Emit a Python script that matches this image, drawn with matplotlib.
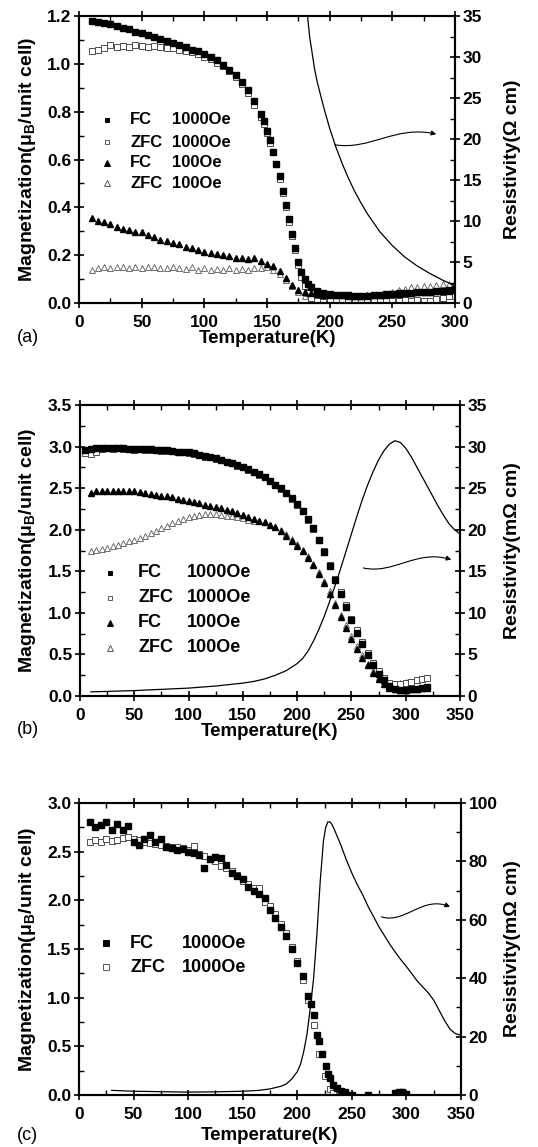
import numpy as np
import matplotlib
matplotlib.use("Agg")
import matplotlib.pyplot as plt
from matplotlib.path import Path
from matplotlib.patches import FancyArrowPatch
from matplotlib.ticker import MultipleLocator

plt.rcParams['font.family'] = ['Liberation Sans', 'DejaVu Sans']
plt.rcParams['font.weight'] = 'bold'
plt.rcParams['mathtext.fontset'] = 'custom'
plt.rcParams['mathtext.rm'] = 'Liberation Sans:bold'
plt.rcParams['mathtext.it'] = 'Liberation Sans:bold'
plt.rcParams['mathtext.bf'] = 'Liberation Sans:bold'

# ---------------- panel (a) ----------------
Ta_1000 = [10, 15, 20, 25, 30, 35, 40, 45, 50, 55, 60, 65, 70, 75, 80, 85, 90, 95, 100, 105,
           110, 115, 120, 125, 130, 135, 140, 145, 147.5, 150, 152.5, 155, 157.5, 160, 162.5,
           165, 167.5, 170, 172.5, 175, 177.5, 180, 182.5, 185, 190, 195, 200, 205, 210, 215,
           220, 225, 230, 235, 240, 245, 250, 255, 260, 265, 270, 275, 280, 285, 290, 295, 300]
Ma_fc1000 = [1.18, 1.175, 1.172, 1.168, 1.16, 1.152, 1.145, 1.135, 1.128, 1.12, 1.112, 1.105,
             1.097, 1.088, 1.08, 1.07, 1.06, 1.052, 1.042, 1.03, 1.015, 0.995, 0.975, 0.952,
             0.925, 0.89, 0.845, 0.79, 0.76, 0.72, 0.68, 0.63, 0.58, 0.53, 0.47, 0.41, 0.35,
             0.29, 0.23, 0.17, 0.13, 0.1, 0.08, 0.065, 0.05, 0.042, 0.038, 0.035, 0.035, 0.032,
             0.03, 0.028, 0.03, 0.032, 0.035, 0.037, 0.038, 0.04, 0.04, 0.042, 0.045, 0.045,
             0.048, 0.05, 0.05, 0.055, 0.06]
Ma_zfc1000 = [1.055, 1.06, 1.065, 1.08, 1.07, 1.075, 1.072, 1.08, 1.075, 1.072, 1.075, 1.07,
              1.068, 1.065, 1.06, 1.055, 1.05, 1.04, 1.03, 1.02, 1.005, 0.99, 0.97, 0.945,
              0.915, 0.88, 0.83, 0.78, 0.75, 0.71, 0.67, 0.63, 0.58, 0.52, 0.46, 0.4, 0.34,
              0.28, 0.22, 0.16, 0.11, 0.07, 0.04, 0.02, 0.01, 0.005, 0.01, 0.008, 0.01, 0.012,
              0.008, 0.01, 0.012, 0.01, 0.008, 0.012, 0.01, 0.01, 0.012, 0.01, 0.012, 0.01,
              0.01, 0.015, 0.02, 0.03, 0.03]

Ta_100 = [10, 15, 20, 25, 30, 35, 40, 45, 50, 55, 60, 65, 70, 75, 80, 85, 90, 95, 100, 105,
          110, 115, 120, 125, 130, 135, 140, 145, 150, 155, 160, 165, 170, 175, 180, 185, 190,
          195, 200, 205, 210, 215, 220, 225, 230, 235, 240, 245, 250, 255, 260, 265, 270, 275,
          280, 285, 290, 295, 300]
Ma_fc100 = [0.355, 0.345, 0.34, 0.33, 0.32, 0.31, 0.305, 0.295, 0.295, 0.285, 0.275, 0.265,
            0.26, 0.25, 0.245, 0.235, 0.23, 0.22, 0.215, 0.21, 0.205, 0.2, 0.195, 0.19, 0.19,
            0.185, 0.19, 0.175, 0.165, 0.155, 0.135, 0.105, 0.075, 0.055, 0.045, 0.04, 0.038,
            0.035, 0.033, 0.032, 0.032, 0.03, 0.03, 0.03, 0.032, 0.033, 0.035, 0.035, 0.038,
            0.037, 0.04, 0.042, 0.045, 0.045, 0.048, 0.05, 0.052, 0.05, 0.055]
Ma_zfc100 = [0.14, 0.145, 0.15, 0.145, 0.15, 0.15, 0.148, 0.15, 0.148, 0.15, 0.15, 0.148,
             0.145, 0.15, 0.145, 0.142, 0.15, 0.14, 0.145, 0.14, 0.142, 0.14, 0.145, 0.14,
             0.142, 0.14, 0.148, 0.145, 0.15, 0.14, 0.12, 0.095, 0.07, 0.045, 0.03, 0.02,
             0.015, 0.012, 0.012, 0.013, 0.015, 0.018, 0.02, 0.022, 0.025, 0.028, 0.032, 0.038,
             0.045, 0.055, 0.06, 0.065, 0.068, 0.07, 0.072, 0.075, 0.078, 0.08, 0.085]

Ta_rho = [180, 182, 184, 186, 188, 190, 195, 200, 205, 210, 215, 220, 225, 230, 240, 250,
          260, 270, 280, 290, 300]
rho_a = [38.5, 35.5, 32.5, 30.5, 28.5, 27.0, 24.0, 21.3, 19.0, 17.0, 15.2, 13.6, 12.2, 10.9,
         8.7, 7.0, 5.6, 4.5, 3.6, 2.8, 2.1]

# ---------------- panel (b) ----------------
Tb = [5, 10, 15, 20, 25, 30, 35, 40, 45, 50, 55, 60, 65, 70, 75, 80, 85, 90, 95, 100, 105,
      110, 115, 120, 125, 130, 135, 140, 145, 150, 155, 160, 165, 170, 175, 180, 185, 190,
      195, 200, 205, 210, 215, 220, 225, 230, 235, 240, 245, 250, 255, 260, 265, 270, 275,
      280, 285, 290, 295, 300, 305, 310, 315, 320]
Mb_fc1000 = [2.96, 2.97, 2.98, 2.98, 2.98, 2.98, 2.98, 2.98, 2.97, 2.97, 2.97, 2.97, 2.97,
             2.96, 2.96, 2.96, 2.95, 2.94, 2.94, 2.93, 2.92, 2.9, 2.89, 2.87, 2.86, 2.84, 2.82,
             2.8, 2.78, 2.76, 2.73, 2.7, 2.67, 2.63, 2.59, 2.54, 2.5, 2.44, 2.38, 2.31, 2.23,
             2.13, 2.02, 1.88, 1.73, 1.56, 1.39, 1.23, 1.07, 0.91, 0.76, 0.62, 0.49, 0.37,
             0.27, 0.19, 0.12, 0.08, 0.07, 0.07, 0.08, 0.09, 0.1, 0.11]
Mb_zfc1000 = [2.92, 2.91, 2.93, 2.97, 2.98, 2.97, 2.98, 2.97, 2.97, 2.96, 2.97, 2.96, 2.96,
              2.96, 2.95, 2.95, 2.95, 2.94, 2.93, 2.92, 2.91, 2.9, 2.88, 2.87, 2.85, 2.84,
              2.82, 2.8, 2.77, 2.75, 2.72, 2.7, 2.66, 2.63, 2.58, 2.54, 2.49, 2.44, 2.37, 2.3,
              2.22, 2.12, 2.01, 1.88, 1.74, 1.58, 1.41, 1.25, 1.09, 0.93, 0.79, 0.65, 0.52,
              0.4, 0.3, 0.22, 0.16, 0.15, 0.15, 0.16, 0.17, 0.19, 0.21, 0.22]
Tb_fc100 = [10, 15, 20, 25, 30, 35, 40, 45, 50, 55, 60, 65, 70, 75, 80, 85, 90, 95, 100, 105,
            110, 115, 120, 125, 130, 135, 140, 145, 150, 155, 160, 165, 170, 175, 180, 185,
            190, 195, 200, 205, 210, 215, 220, 225, 230, 235, 240, 245, 250, 255, 260, 265,
            270, 275, 280, 285, 290, 295, 300, 305, 310, 315, 320]
Mb_fc100 = [2.44, 2.46, 2.47, 2.47, 2.47, 2.47, 2.47, 2.47, 2.46, 2.45, 2.44, 2.43, 2.42,
            2.41, 2.4, 2.39, 2.37, 2.36, 2.35, 2.33, 2.32, 2.3, 2.29, 2.27, 2.26, 2.24, 2.22,
            2.2, 2.18, 2.15, 2.13, 2.11, 2.09, 2.06, 2.03, 1.98, 1.93, 1.87, 1.81, 1.74, 1.66,
            1.57, 1.47, 1.36, 1.23, 1.09, 0.95, 0.82, 0.69, 0.57, 0.46, 0.37, 0.28, 0.21,
            0.15, 0.1, 0.08, 0.07, 0.07, 0.08, 0.09, 0.1, 0.1]
Tb_zfc100 = [10, 15, 20, 25, 30, 35, 40, 45, 50, 55, 60, 65, 70, 75, 80, 85, 90, 95, 100,
             105, 110, 115, 120, 125, 130, 135, 140, 145, 150, 155, 160, 165, 170, 175, 180,
             185, 190, 195, 200, 205, 210, 215, 220, 225, 230, 235, 240, 245, 250, 255, 260,
             265, 270, 275, 280, 285, 290, 295, 300]
Mb_zfc100 = [1.75, 1.76, 1.77, 1.78, 1.8, 1.82, 1.84, 1.86, 1.88, 1.9, 1.93, 1.96, 1.99, 2.02,
             2.05, 2.08, 2.1, 2.13, 2.15, 2.17, 2.18, 2.19, 2.19, 2.19, 2.18, 2.17, 2.16,
             2.15, 2.14, 2.12, 2.11, 2.1, 2.09, 2.06, 2.03, 2.0, 1.95, 1.89, 1.83, 1.76, 1.68,
             1.59, 1.49, 1.38, 1.26, 1.12, 0.98, 0.85, 0.72, 0.6, 0.49, 0.39, 0.3, 0.23, 0.18,
             0.15, 0.15, 0.16, 0.17]
Tb_rho = [10, 25, 50, 75, 100, 125, 150, 160, 170, 180, 190, 200, 205, 210, 215, 220, 225,
          230, 235, 240, 245, 250, 255, 260, 265, 270, 275, 280, 285, 290, 295, 300, 305, 310,
          315, 320, 325, 330, 335, 340, 345, 350]
rho_b = [0.5, 0.55, 0.65, 0.8, 0.95, 1.2, 1.55, 1.75, 2.05, 2.5, 3.05, 3.9, 4.5, 5.4, 6.6,
         8.0, 9.6, 11.4, 13.3, 15.3, 17.4, 19.5, 21.6, 23.6, 25.4, 27.0, 28.4, 29.5, 30.3,
         30.7, 30.5, 29.8, 28.8, 27.6, 26.4, 25.2, 24.0, 22.8, 21.7, 20.7, 20.0, 19.5]

# ---------------- panel (c) ----------------
Tc_fc = [10, 15, 20, 25, 30, 35, 40, 45, 50, 55, 60, 65, 70, 75, 80, 85, 90, 95, 100, 105,
         110, 115, 120, 125, 130, 135, 140, 145, 150, 155, 160, 165, 170, 175, 180, 185, 190,
         195, 200, 205, 210, 213, 215, 218, 220, 223, 226, 228, 230, 233, 236, 240, 244, 250,
         265, 290, 293, 296, 300]
Mc_fc = [2.8, 2.75, 2.77, 2.8, 2.72, 2.78, 2.72, 2.76, 2.6, 2.57, 2.63, 2.67, 2.6, 2.63, 2.55,
         2.54, 2.52, 2.53, 2.5, 2.49, 2.46, 2.33, 2.42, 2.44, 2.43, 2.36, 2.28, 2.25, 2.22,
         2.14, 2.1, 2.06, 2.02, 1.9, 1.82, 1.73, 1.63, 1.5, 1.36, 1.22, 1.02, 0.93, 0.82, 0.62,
         0.55, 0.42, 0.3, 0.22, 0.18, 0.1, 0.07, 0.04, 0.03, 0.0, 0.0, 0.02, 0.03, 0.03, 0.01]
Tc_zfc = [10, 15, 20, 25, 30, 35, 40, 45, 50, 55, 60, 65, 70, 75, 80, 85, 90, 95, 100, 105,
          110, 115, 120, 125, 130, 135, 140, 145, 150, 155, 160, 165, 170, 175, 180, 185, 190,
          195, 200, 205, 210, 215, 220, 225, 230, 233, 238]
Mc_zfc = [2.6, 2.62, 2.6, 2.63, 2.61, 2.62, 2.64, 2.65, 2.63, 2.62, 2.6, 2.59, 2.58, 2.57,
          2.56, 2.55, 2.55, 2.54, 2.52, 2.56, 2.48, 2.45, 2.42, 2.4, 2.35, 2.33, 2.3, 2.26,
          2.2, 2.17, 2.13, 2.13, 1.98, 1.94, 1.86, 1.76, 1.66, 1.52, 1.38, 1.18, 0.98, 0.72,
          0.42, 0.2, 0.06, 0.02, 0.0]
Tc_rho = [30, 50, 100, 125, 150, 165, 175, 185, 190, 195, 200, 203, 206, 209, 212, 215, 218,
          221, 224, 226, 228, 230, 232, 235, 240, 245, 250, 255, 260, 265, 270, 275, 280, 285,
          290, 295, 300, 305, 310, 315, 320, 325, 330, 335, 340, 345, 350]
rho_c = [1.6, 1.3, 1.0, 1.1, 1.3, 1.6, 2.1, 3.0, 3.8, 5.5, 8.0, 10.5, 15.0, 21.0, 30.0, 40.0,
         55.0, 73.0, 87.0, 91.5, 93.5, 93.5, 92.5, 90.0, 85.5, 80.5, 76.0, 72.0, 68.5, 64.5,
         61.0, 57.5, 54.5, 51.5, 48.8, 46.3, 44.0, 41.5, 39.0, 37.0, 35.0, 32.5, 29.0, 25.5,
         22.5, 21.0, 20.5]

LEFT_LABEL = r'Magnetization($\mu_B$/unit cell)'


def setup(ax, ax2, xmax, ymax, ystep, rmax, rstep, rlabel):
    ax.set_xlim(0, xmax)
    ax.set_ylim(0, ymax)
    ax2.set_ylim(0, rmax)
    ax.xaxis.set_major_locator(MultipleLocator(50))
    ax.xaxis.set_minor_locator(MultipleLocator(25))
    ax.yaxis.set_major_locator(MultipleLocator(ystep))
    ax.yaxis.set_minor_locator(MultipleLocator(ystep / 2))
    ax2.yaxis.set_major_locator(MultipleLocator(rstep))
    ax2.yaxis.set_minor_locator(MultipleLocator(rstep / 2))
    ax.yaxis.set_major_formatter(matplotlib.ticker.FormatStrFormatter('%.1f'))
    ax.tick_params(which='major', direction='inout', length=7, width=1.2, labelsize=12.5,
                   top=True, right=False, pad=2)
    ax.tick_params(axis='x', which='major', pad=5)
    ax.tick_params(which='minor', direction='in', length=3.5, width=1.0, top=True, right=False)
    ax2.tick_params(which='major', direction='inout', length=7, width=1.2, labelsize=12.5, pad=2)
    ax2.tick_params(which='minor', direction='in', length=3.5, width=1.0)
    for a in (ax, ax2):
        for s in a.spines.values():
            s.set_linewidth(1.5)
    ax.set_xlabel('Temperature(K)', fontsize=13.5, fontweight='bold')
    ax.set_ylabel(LEFT_LABEL, fontsize=14, fontweight='bold', va='center')
    ax2.set_ylabel(rlabel, fontsize=14, fontweight='bold', va='center')


def wave_arrow(ax2, x0, y0, x1, y1, amp):
    dx = x1 - x0
    verts = [(x0, y0), (x0 + 0.35 * dx, y0 - amp), (x0 + 0.6 * dx, y1 + 1.6 * amp), (x1, y1)]
    codes = [Path.MOVETO, Path.CURVE4, Path.CURVE4, Path.CURVE4]
    arr = FancyArrowPatch(path=Path(verts, codes), arrowstyle='-|>', mutation_scale=7,
                          lw=0.8, color='k', transform=ax2.transData)
    ax2.add_patch(arr)


def legend_rows(ax, rows, xm, xa, xb, ys, fs):
    for (mk, mfc, mec, ms, a, b), y in zip(rows, ys):
        ax.plot([xm], [y], linestyle='none', marker=mk, mfc=mfc, mec=mec, ms=ms, mew=0.7,
                transform=ax.transAxes, clip_on=False)
        ax.text(xa, y, a, transform=ax.transAxes, fontsize=fs, fontweight='bold', va='center')
        ax.text(xb, y, b, transform=ax.transAxes, fontsize=fs, fontweight='bold', va='center')


fig = plt.figure(figsize=(5.38, 11.47), dpi=100)

# (a)
ax = fig.add_axes([0.1468, 0.7358, 0.699, 0.2502])
ax2 = ax.twinx()
ax.plot(Ta_100, Ma_zfc100, linestyle='none', marker='^', mfc='white', mec='0.35', ms=4.5, mew=0.6)
ax.plot(Ta_1000, Ma_zfc1000, linestyle='none', marker='s', mfc='white', mec='0.3', ms=4.5, mew=0.7)
ax.plot(Ta_100, Ma_fc100, linestyle='none', marker='^', color='k', ms=4.5)
ax.plot(Ta_1000, Ma_fc1000, linestyle='none', marker='s', color='k', ms=4)
ax2.plot(Ta_rho, rho_a, color='k', lw=0.9)
setup(ax, ax2, 300, 1.2, 0.2, 35, 5, 'Resistivity(Ω cm)')
wave_arrow(ax2, 204, 19.3, 285, 20.6, 0.7)
legend_rows(ax, [('s', 'k', 'k', 3.5, 'FC', '1000Oe'),
                 ('s', 'white', '0.35', 3.5, 'ZFC', '1000Oe'),
                 ('^', 'k', 'k', 4.0, 'FC', '100Oe'),
                 ('^', 'white', '0.35', 4.0, 'ZFC', '100Oe')],
            0.0745, 0.136, 0.247, [0.638, 0.561, 0.488, 0.418], 12)
ax.xaxis.set_label_coords(0.5, -0.095)
ax.yaxis.set_label_coords(-0.138, 0.5)
ax2.yaxis.set_label_coords(1.152, 0.5)

# (b)
ax = fig.add_axes([0.1487, 0.3932, 0.7063, 0.2537])
ax2 = ax.twinx()
ax.plot(Tb_zfc100, Mb_zfc100, linestyle='none', marker='^', mfc='white', mec='0.35', ms=4.5, mew=0.6)
ax.plot(Tb, Mb_zfc1000, linestyle='none', marker='s', mfc='white', mec='0.3', ms=4.5, mew=0.7)
ax.plot(Tb_fc100, Mb_fc100, linestyle='none', marker='^', color='k', ms=4.5)
ax.plot(Tb, Mb_fc1000, linestyle='none', marker='s', color='k', ms=4)
ax2.plot(Tb_rho, rho_b, color='k', lw=0.9)
setup(ax, ax2, 350, 3.5, 0.5, 35, 5, 'Resistivity(mΩ cm)')
wave_arrow(ax2, 261, 15.4, 342, 16.4, 0.8)
legend_rows(ax, [('s', 'k', 'k', 3.5, 'FC', '1000Oe'),
                 ('s', 'white', '0.35', 3.5, 'ZFC', '1000Oe'),
                 ('^', 'k', 'k', 4.0, 'FC', '100Oe'),
                 ('^', 'white', '0.35', 4.0, 'ZFC', '100Oe')],
            0.079, 0.153, 0.282, [0.423, 0.337, 0.251, 0.165], 13)
ax.xaxis.set_label_coords(0.5, -0.094)
ax.yaxis.set_label_coords(-0.139, 0.5)
ax2.yaxis.set_label_coords(1.139, 0.5)

# (c)
ax = fig.add_axes([0.1468, 0.0453, 0.710, 0.2547])
ax2 = ax.twinx()
ax.plot(Tc_zfc, Mc_zfc, linestyle='none', marker='s', mfc='white', mec='0.3', ms=5, mew=0.7)
ax.plot(Tc_fc, Mc_fc, linestyle='none', marker='s', color='k', ms=5)
ax2.plot(Tc_rho, rho_c, color='k', lw=0.9)
setup(ax, ax2, 350, 3.0, 0.5, 100, 20, 'Resistivity(mΩ cm)')
ax2.yaxis.set_minor_locator(MultipleLocator(10))
wave_arrow(ax2, 277, 61, 340, 64.4, 2.5)
legend_rows(ax, [('s', 'k', 'k', 4.0, 'FC', '1000Oe'),
                 ('s', 'white', '0.35', 4.0, 'ZFC', '1000Oe')],
            0.071, 0.134, 0.27, [0.52, 0.438], 13)
ax.xaxis.set_label_coords(0.5, -0.11)
ax.yaxis.set_label_coords(-0.136, 0.5)
ax2.yaxis.set_label_coords(1.134, 0.5)

fig.text(0.032, 1 - 337 / 1147, '(a)', fontsize=13, fontweight='normal', va='center')
fig.text(0.032, 1 - 730 / 1147, '(b)', fontsize=13, fontweight='normal', va='center')
fig.text(0.032, 1 - 1135 / 1147, '(c)', fontsize=13, fontweight='normal', va='center')

fig.savefig('out.png', dpi=100)
